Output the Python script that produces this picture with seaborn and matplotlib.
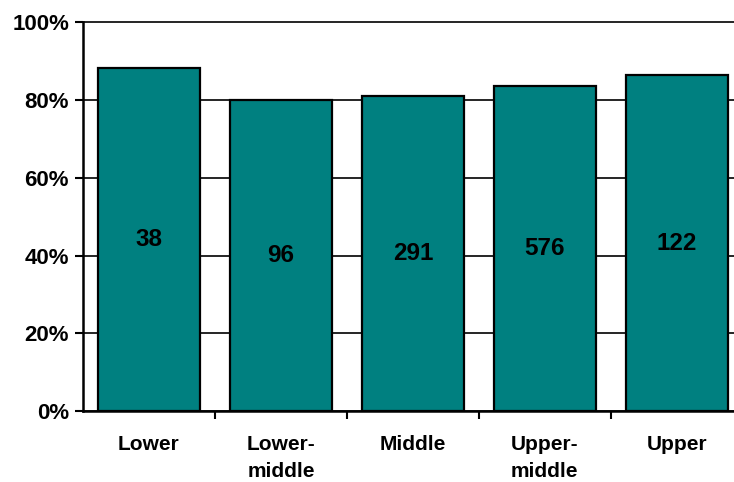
import matplotlib
matplotlib.use("Agg")
import matplotlib.pyplot as plt
from matplotlib.ticker import PercentFormatter, FixedLocator
import seaborn as sns
import pandas as pd

# Share of respondents per income group, with the group sizes shown inside the bars
groups = ["Lower", "Lower-\nmiddle", "Middle", "Upper-\nmiddle", "Upper"]
share = [0.883, 0.800, 0.811, 0.837, 0.863]
counts = [38, 96, 291, 576, 122]

df = pd.DataFrame({"group": groups, "share": share, "n": counts})

sns.set_theme(style="white")
plt.rcParams["font.family"] = ["Liberation Sans", "DejaVu Sans"]
plt.rcParams["font.weight"] = "bold"
plt.rcParams["text.color"] = "black"
plt.rcParams["xtick.color"] = "black"
plt.rcParams["ytick.color"] = "black"
plt.rcParams["xtick.labelcolor"] = "black"
plt.rcParams["ytick.labelcolor"] = "black"

fig = plt.figure(figsize=(7.34, 4.82), dpi=100)
ax = fig.add_axes([0.113, 0.147, 0.899, 0.807])

sns.barplot(data=df, x="group", y="share", color="#008080", saturation=1,
            width=0.77, edgecolor="black", linewidth=1.6, ax=ax, zorder=3)

# Count labels centred vertically inside each bar
for i, (s, n) in enumerate(zip(df["share"], df["n"])):
    ax.text(i, s / 2, str(n), ha="center", va="center",
            fontsize=17.5, fontweight="bold", color="black", zorder=4)

ax.set_ylim(0, 1.0)
ax.set_xlim(-0.5, 4.5)
ax.yaxis.set_major_locator(FixedLocator([0, 0.2, 0.4, 0.6, 0.8, 1.0]))
ax.yaxis.set_major_formatter(PercentFormatter(1.0, decimals=0))
ax.grid(axis="y", color="black", linewidth=1.2, zorder=0)
for gl in ax.get_ygridlines():
    gl.set_clip_on(False)

ax.set_xlabel("")
ax.set_ylabel("")
ax.set_xticks(range(len(groups)))
ax.set_xticklabels(groups, fontsize=15, fontweight="bold", linespacing=1.55,
                   color="black")
ax.set_xticks([0.5, 1.5, 2.5, 3.5, 4.5], minor=True)
ax.tick_params(axis="x", which="major", length=0, pad=17)
ax.tick_params(axis="x", which="minor", length=6, width=1.5, color="black",
               direction="out", bottom=True)
ax.tick_params(axis="y", which="major", length=6, width=1.5, color="black",
               direction="out", left=True, labelsize=16, pad=4)
for lab in ax.get_yticklabels():
    lab.set_fontweight("bold")
    lab.set_color("black")

for side in ["top", "right"]:
    ax.spines[side].set_visible(False)
for side in ["left", "bottom"]:
    ax.spines[side].set_color("black")
    ax.spines[side].set_linewidth(1.8)
    ax.spines[side].set_zorder(5)

fig.savefig("out.png", dpi=100)
